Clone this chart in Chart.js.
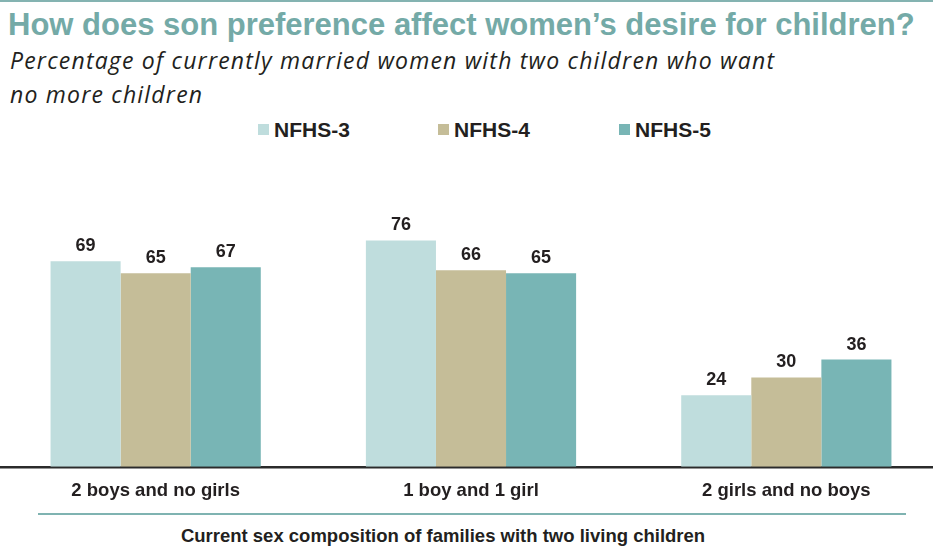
<!DOCTYPE html>
<html>
<head>
<meta charset="utf-8">
<script src="https://cdn.jsdelivr.net/npm/chart.js@4.4.1/dist/chart.umd.min.js"></script>
<style>
  html, body { margin: 0; padding: 0; width: 933px; height: 548px; overflow: hidden; background: #fff; position: relative; }
  .topline { position: absolute; left: 0; top: 0; width: 933px; height: 2px; background: #84b3b1; }
  .title { position: absolute; left: 8px; top: 7px; font: bold 31px "Liberation Sans", Arial, sans-serif; color: #74aaa7; white-space: nowrap; }
  .subtitle { position: absolute; left: 10px; top: 43px; font: italic 23px "Open Sans", sans-serif; letter-spacing: 1.2px; line-height: 34px; color: #231f20; white-space: nowrap; }
  #legend { position: absolute; left: 0; top: 118px; width: 933px; height: 26px; }
  .lg { position: absolute; top: 0; font: bold 21px "Liberation Sans", Arial, sans-serif; color: #231f20; line-height: 24px; white-space: nowrap; }
  .lg span { display: inline-block; width: 11px; height: 11px; margin-right: 5px; vertical-align: 2px; }
  #wrap { position: absolute; left: -2px; top: 150px; width: 946px; height: 357px; }
  .sep { position: absolute; left: 38px; top: 513px; width: 868px; height: 2px; background: #7fb3b1; }
  .xtitle { position: absolute; left: 0; top: 525px; width: 886px; text-align: center; font: bold 18.5px "Liberation Sans", Arial, sans-serif; color: #231f20; white-space: nowrap; }
</style>
</head>
<body>
<div class="topline"></div>
<div class="title">How does son preference affect women’s desire for children?</div>
<div class="subtitle">Percentage of currently married women with two children who want<br>no more children</div>
<div id="legend"></div>
<div id="wrap"><canvas id="chart"></canvas></div>
<div class="sep"></div>
<div class="xtitle">Current sex composition of families with two living children</div>
<script>
var categories = ['2 boys and no girls', '1 boy and 1 girl', '2 girls and no boys'];
var seriesNames = ['NFHS-3', 'NFHS-4', 'NFHS-5'];
var nfhs3 = [69, 76, 24];
var nfhs4 = [65, 66, 30];
var nfhs5 = [67, 65, 36];
var colors = ['#bfdddd', '#c5bd98', '#78b5b5'];
var legendLeft = [258, 438, 619];

var values = [nfhs3, nfhs4, nfhs5];

// legend built from the series names / colours
var lg = document.getElementById('legend');
for (var i = 0; i < seriesNames.length; i++) {
    var d = document.createElement('div');
    d.className = 'lg';
    d.style.left = legendLeft[i] + 'px';
    d.innerHTML = '<span style="background:' + colors[i] + '"></span>' + seriesNames[i];
    lg.appendChild(d);
}

// value labels above the bars
var barLabels = {
    id: 'barLabels',
    afterDatasetsDraw: function(chart) {
        var ctx = chart.ctx;
        ctx.save();
        ctx.font = 'bold 18px "Liberation Sans", Arial, sans-serif';
        ctx.fillStyle = '#231f20';
        ctx.textAlign = 'center';
        ctx.textBaseline = 'alphabetic';
        chart.data.datasets.forEach(function(ds, di) {
            chart.getDatasetMeta(di).data.forEach(function(bar, j) {
                ctx.fillText(ds.data[j], bar.x, bar.y - 10);
            });
        });
        ctx.restore();
    }
};

var datasets = seriesNames.map(function(name, i) {
    return {
        label: name,
        data: values[i],
        backgroundColor: colors[i],
        borderWidth: 0,
        barPercentage: 1,
        categoryPercentage: 0.6667
    };
});

new Chart(document.getElementById('chart'), {
    type: 'bar',
    data: { labels: categories, datasets: datasets },
    options: {
        responsive: true,
        maintainAspectRatio: false,
        animation: false,
        layout: { padding: { top: 19, left: 0, right: 0, bottom: 0 } },
        plugins: { legend: { display: false }, tooltip: { enabled: false } },
        scales: {
            x: {
                grid: { display: false },
                border: { display: true, color: '#2b2b2b', width: 2.5 },
                ticks: {
                    color: '#231f20',
                    padding: 5,
                    font: { family: '"Liberation Sans", Arial, sans-serif', size: 18.5, weight: 'bold' }
                }
            },
            y: {
                display: false,
                min: 0,
                max: 100
            }
        }
    },
    plugins: [barLabels]
});
</script>
</body>
</html>
